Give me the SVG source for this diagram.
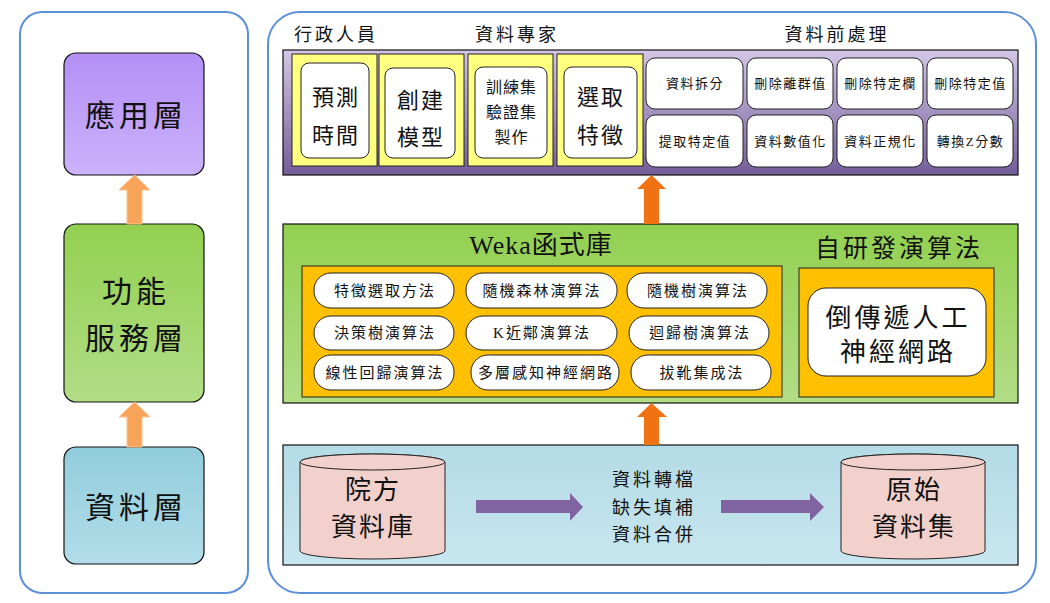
<svg xmlns="http://www.w3.org/2000/svg" width="1050" height="603" viewBox="0 0 1050 603">
<defs>
<linearGradient id="gPurpleL" x1="0" y1="0" x2="0" y2="1"><stop offset="0" stop-color="#b48ff6"/><stop offset="1" stop-color="#cbb2fa"/></linearGradient>
<linearGradient id="gGreen" x1="0" y1="0" x2="0" y2="1"><stop offset="0" stop-color="#92d050"/><stop offset="1" stop-color="#b2dd86"/></linearGradient>
<linearGradient id="gBlueL" x1="0" y1="0" x2="0" y2="1"><stop offset="0" stop-color="#92cddc"/><stop offset="1" stop-color="#b2dde9"/></linearGradient>
<linearGradient id="gTop" x1="0" y1="0" x2="0" y2="1"><stop offset="0" stop-color="#d2c6e6"/><stop offset="1" stop-color="#735d9a"/></linearGradient>
<linearGradient id="gBlue" x1="0" y1="0" x2="0" y2="1"><stop offset="0" stop-color="#b4dbe7"/><stop offset="1" stop-color="#c8e6ef"/></linearGradient>
</defs>
<style>
text{font-family:"Liberation Serif","Noto Sans CJK TC",serif;fill:#111;text-anchor:middle;dominant-baseline:central}
.panel{fill:#fff;stroke:#5b8fd8;stroke-width:2}
.box{stroke:#111;stroke-width:1.2}
.yel{fill:#ffff80;stroke:#222;stroke-width:1}
.wht{fill:#fff;stroke:#222;stroke-width:1}
.org{fill:#ffc000;stroke:#222;stroke-width:1}
.cyl{fill:#f2d0cb;stroke:#222;stroke-width:1}
.arL{fill:#f7a35a;stroke:#fbc38f;stroke-width:1}
.arR{fill:#f07213}
.arP{fill:#8064a2}
.big{font-size:30px;letter-spacing:4px}
.t22{font-size:22px;letter-spacing:2px}
.t16{font-size:16px;letter-spacing:1px}
.t13{font-size:13px;letter-spacing:1.5px}
.t15{font-size:15px;letter-spacing:2px}
.t18{font-size:18px;letter-spacing:3px}
.t25{font-size:25px;letter-spacing:3px}
.t26{font-size:26px;letter-spacing:2px}
</style>

<g id="left-panel">
<rect class="panel" x="20" y="12" width="228" height="581" rx="22"/>
</g>
<g id="right-panel">
<rect class="panel" x="268" y="12" width="768" height="581" rx="32"/>
</g>

<g id="app-layer">
<rect class="box" x="64" y="53" width="140" height="122" rx="12" fill="url(#gPurpleL)"/>
<text class="big" x="136" y="115">應用層</text>
</g>
<g id="func-layer">
<rect class="box" x="64" y="224" width="140" height="178" rx="12" fill="url(#gGreen)"/>
<text class="big" x="136" y="291">功能</text>
<text class="big" x="136" y="338">服務層</text>
</g>
<g id="data-layer">
<rect class="box" x="64" y="447" width="140" height="117" rx="12" fill="url(#gBlueL)"/>
<text class="big" x="136" y="507">資料層</text>
</g>

<g id="top-labels">
<text class="t18" x="336" y="35">行政人員</text>
<text class="t18" x="517" y="35">資料專家</text>
<text class="t18" x="837" y="35">資料前處理</text>
</g>

<g id="app-box">
<rect class="box" x="283" y="50" width="735" height="125" fill="url(#gTop)"/>
</g>
<g id="predict-time">
<rect class="yel" x="292" y="54" width="85" height="112"/>
<rect class="wht" x="301" y="63" width="68" height="95" rx="8"/>
<text class="t22" x="336" y="97">預測</text>
<text class="t22" x="336" y="135">時間</text>
</g>
<g id="build-model">
<rect class="yel" x="379" y="54" width="85" height="112"/>
<rect class="wht" x="385" y="68" width="70" height="90" rx="8"/>
<text class="t22" x="421" y="100">創建</text>
<text class="t22" x="421" y="137">模型</text>
</g>
<g id="train-set">
<rect class="yel" x="468" y="54" width="85" height="112"/>
<rect class="wht" x="475" y="67" width="72" height="91" rx="8"/>
<text class="t16" x="511.5" y="87">訓練集</text>
<text class="t16" x="511.5" y="112">驗證集</text>
<text class="t16" x="511.5" y="137">製作</text>
</g>
<g id="select-feature">
<rect class="yel" x="557" y="54" width="86" height="112"/>
<rect class="wht" x="564" y="67" width="73" height="91" rx="8"/>
<text class="t22" x="601" y="97">選取</text>
<text class="t22" x="601" y="135">特徵</text>
</g>
<g id="prep-1"><rect class="wht" x="646" y="58" width="97" height="51" rx="9"/><text class="t13" x="695" y="83">資料拆分</text></g>
<g id="prep-2"><rect class="wht" x="747" y="58" width="86" height="51" rx="9"/><text class="t13" x="790.5" y="83">刪除離群值</text></g>
<g id="prep-3"><rect class="wht" x="837" y="58" width="86" height="51" rx="9"/><text class="t13" x="880.5" y="83">刪除特定欄</text></g>
<g id="prep-4"><rect class="wht" x="927" y="58" width="86" height="51" rx="9"/><text class="t13" x="970.5" y="83">刪除特定值</text></g>
<g id="prep-5"><rect class="wht" x="646" y="115" width="97" height="52" rx="9"/><text class="t13" x="695" y="141">提取特定值</text></g>
<g id="prep-6"><rect class="wht" x="747" y="115" width="86" height="52" rx="9"/><text class="t13" x="790.5" y="141">資料數值化</text></g>
<g id="prep-7"><rect class="wht" x="837" y="115" width="86" height="52" rx="9"/><text class="t13" x="880.5" y="141">資料正規化</text></g>
<g id="prep-8"><rect class="wht" x="927" y="115" width="86" height="52" rx="9"/><text class="t13" x="970.5" y="141">轉換Z分數</text></g>

<g id="func-box">
<rect class="box" x="283" y="224" width="735" height="179" fill="url(#gGreen)"/>
<text class="t26" x="541" y="245" style="letter-spacing:1px">Weka函式庫</text>
<text class="t25" x="899" y="248">自研發演算法</text>
</g>
<g id="weka-lib">
<rect class="org" x="302" y="266" width="480" height="131"/>
</g>
<g id="alg-1"><rect class="wht" x="314" y="273" width="140" height="35" rx="17"/><text class="t15" x="385" y="291">特徵選取方法</text></g>
<g id="alg-2"><rect class="wht" x="466" y="273" width="151" height="35" rx="17"/><text class="t15" x="542" y="291">隨機森林演算法</text></g>
<g id="alg-3"><rect class="wht" x="627" y="273" width="140" height="35" rx="17"/><text class="t15" x="698" y="291">隨機樹演算法</text></g>
<g id="alg-4"><rect class="wht" x="314" y="316" width="140" height="34" rx="17"/><text class="t15" x="385" y="333">決策樹演算法</text></g>
<g id="alg-5"><rect class="wht" x="466" y="316" width="151" height="34" rx="17"/><text class="t15" x="542" y="333">K近鄰演算法</text></g>
<g id="alg-6"><rect class="wht" x="629" y="316" width="140" height="34" rx="17"/><text class="t15" x="700" y="333">迴歸樹演算法</text></g>
<g id="alg-7"><rect class="wht" x="314" y="355" width="140" height="35" rx="17"/><text class="t15" x="385" y="373">線性回歸演算法</text></g>
<g id="alg-8"><rect class="wht" x="471" y="355" width="148" height="35" rx="17"/><text class="t15" x="546" y="373">多層感知神經網路</text></g>
<g id="alg-9"><rect class="wht" x="631" y="355" width="140" height="35" rx="17"/><text class="t15" x="702" y="373">拔靴集成法</text></g>

<g id="self-alg">
<rect class="org" x="799" y="268" width="195" height="129"/>
<rect class="wht" x="808" y="288" width="178" height="88" rx="18"/>
<text class="t26" x="898" y="318" style="letter-spacing:3px">倒傳遞人工</text>
<text class="t26" x="898" y="352" style="letter-spacing:3px">神經網路</text>
</g>

<g id="data-box">
<rect class="box" x="283" y="445" width="735" height="120" fill="url(#gBlue)"/>
</g>
<g id="hospital-db">
<path class="cyl" d="M300,462 A72.5,8 0 0 1 445,462 L445,551 A72.5,8 0 0 1 300,551 Z"/>
<ellipse class="cyl" cx="372.5" cy="462" rx="72.5" ry="8"/>
<text class="t26" x="373" y="490">院方</text>
<text class="t26" x="373" y="527">資料庫</text>
</g>
<g id="process-text">
<text class="t18" x="654" y="480">資料轉檔</text>
<text class="t18" x="654" y="508">缺失填補</text>
<text class="t18" x="654" y="535">資料合併</text>
</g>
<g id="raw-dataset">
<path class="cyl" d="M841,462 A72,8 0 0 1 985,462 L985,551 A72,8 0 0 1 841,551 Z"/>
<ellipse class="cyl" cx="913" cy="462" rx="72" ry="8"/>
<text class="t26" x="914" y="490">原始</text>
<text class="t26" x="914" y="527">資料集</text>
</g>

<g id="connectors">
<polygon class="arL" points="134.5,175 150,190 142,190 142,224 127,224 127,190 119,190"/>
<polygon class="arL" points="134.5,402 150,417 142,417 142,447 127,447 127,417 119,417"/>
<polygon class="arR" points="651.5,175 666,189 659,189 659,224 644,224 644,189 637,189"/>
<polygon class="arR" points="651.5,403 667,417 659,417 659,445 644,445 644,417 637,417"/>
<polygon class="arP" points="476,500 570,500 570,493 583,507 570,521 570,513 476,513"/>
<polygon class="arP" points="721,500 810,500 810,493 824,507 810,521 810,513 721,513"/>
</g>
</svg>
